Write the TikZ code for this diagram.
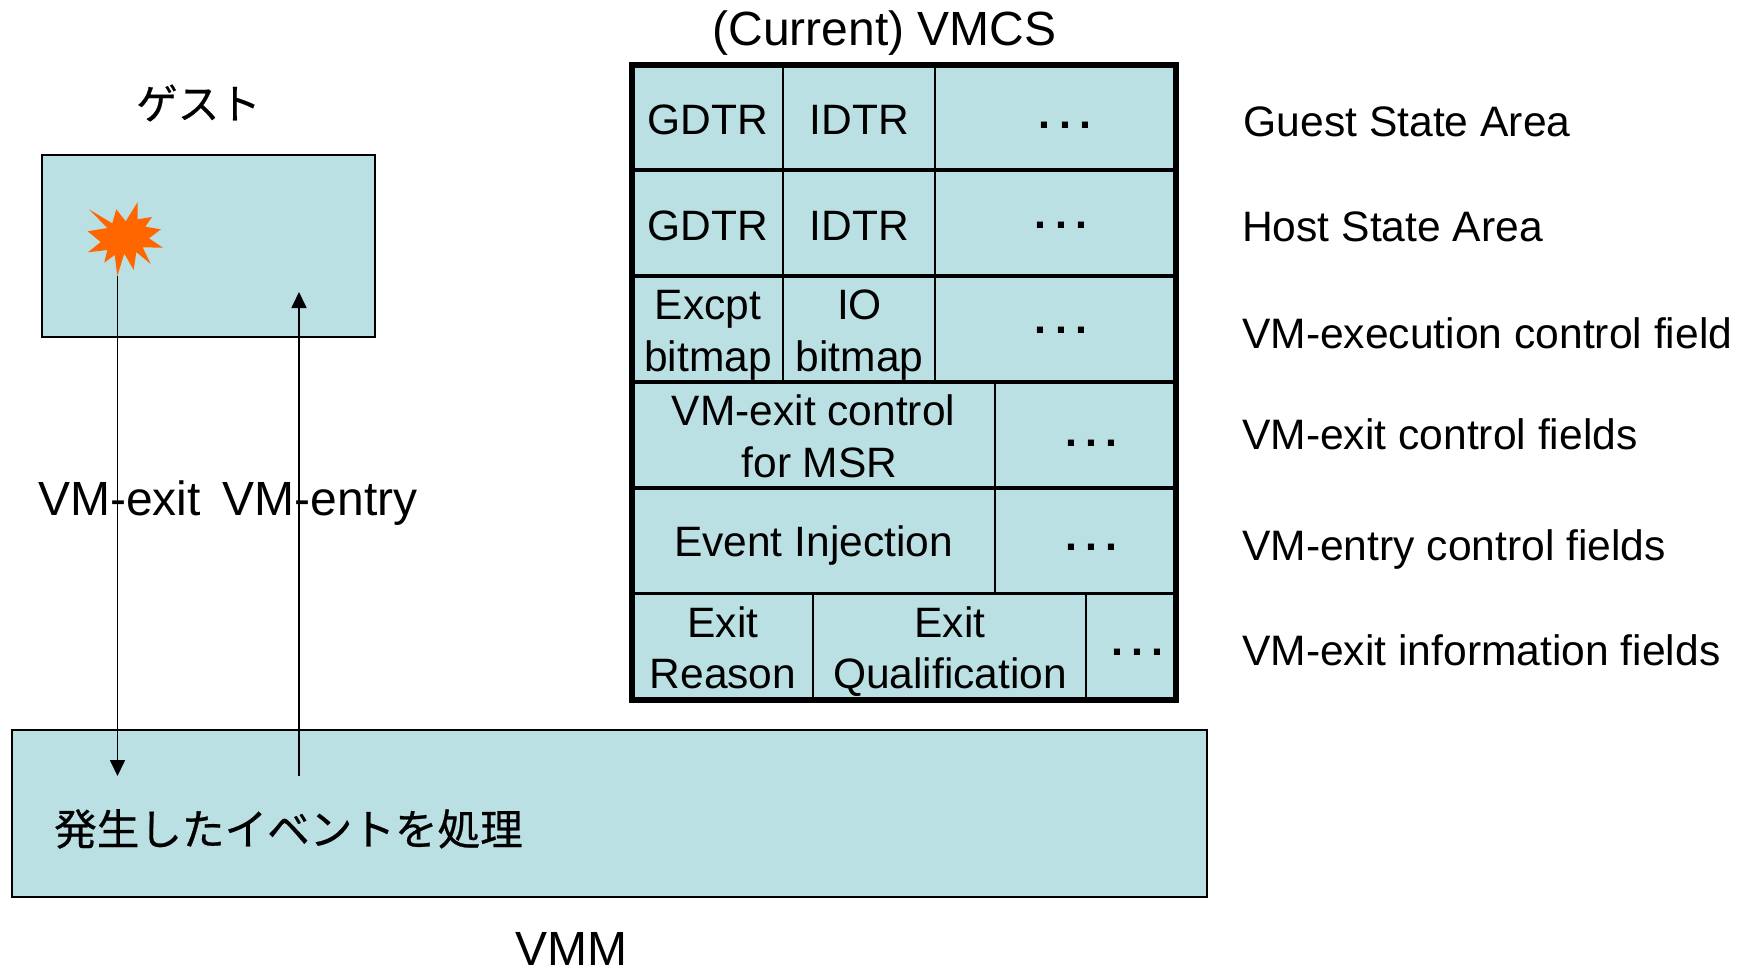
\documentclass[tikz,border=0pt]{standalone}
\usepackage{fontspec}
\setmainfont{Liberation Sans}
\newfontfamily\cjk[FakeBold=0.6]{Noto Sans CJK JP}
\usetikzlibrary{arrows.meta}
\definecolor{boxfill}{HTML}{BBE0E3}
\definecolor{burst}{HTML}{FF6600}
\newcommand{\threedots}{.\hspace{8.2pt}.\hspace{8.2pt}.}
\tikzset{
  areabox/.style={draw=black,line width=1.8pt,fill=boxfill,inner sep=0pt,outer sep=0pt},
  cellbox/.style={draw=black,line width=1.8pt,fill=boxfill,inner sep=0pt,outer sep=0pt},
  frame/.style={draw=black,line width=5.5pt,inner sep=0pt,outer sep=0pt},
  rowline/.style={draw=black,line width=3.6pt},
  big/.style={inner sep=0pt,anchor=base,font=\fontsize{48}{56}\selectfont},
  side/.style={inner sep=0pt,anchor=base west,font=\fontsize{42.6}{51}\selectfont},
  celltext/.style={inner sep=0pt,anchor=base,font=\fontsize{42.5}{51}\selectfont},
  jp/.style={inner sep=0pt,anchor=base,font=\fontsize{42.6}{51}\selectfont\cjk},
  dots/.style={inner sep=0pt,anchor=center,font=\fontsize{43}{45}\selectfont\bfseries},
  flow/.style={draw=black,line width=1.7pt,-{Triangle[length=16pt,width=15pt]}}
}
\newcommand{\boxat}[6]{%
  \pgfmathsetmacro\bw{#5-#3}\pgfmathsetmacro\bh{#6-#4}%
  \node[#2,minimum width=\bw pt,minimum height=\bh pt] (#1) at ({(#3+#5)/2},{(#4+#6)/2}) {};}
\begin{document}
\begin{tikzpicture}[x=1pt,y=-1pt]
\useasboundingbox (0,0) rectangle (1746,969);
% guest and VMM
\boxat{guest}{areabox}{42}{155}{375}{337}
\boxat{vmm}{areabox}{12}{730}{1207}{897}
\node[jp,font=\fontsize{41.5}{51}\selectfont\cjk] (guesttitle) at (198.5,119) {ゲスト};
\node[big] (vmmtitle) at (571,965.5) {VMM};
\node[jp,anchor=base west] (handle) at (54,845) {発生したイベントを処理};
% burst
\fill[burst] (89,209.3)--(112.3,223.3)--(116.3,209.3)--(125.7,221.3)--(137.7,202)--(137.7,219.3)--(152,217)--(145.3,226.7)--(161,229.3)--(149,238.3)--(163,247.7)--(142.7,247.3)--(150.7,264)--(136.3,252)--(133.7,270)--(124.3,253.7)--(117.3,276)--(114.7,255)--(104.3,262.7)--(107.3,250)--(88,252.3)--(100.7,242)--(87.7,231.3)--(107.3,228)--cycle;
\coordinate (exitstart) at (117.5,276);
\coordinate (exitend) at (117.5,776);
\coordinate (entrystart) at (299,776);
\coordinate (entryend) at (299,292);
\draw[flow] (exitstart) -- (exitend);
\draw[flow] (entrystart) -- (entryend);
\node[big,anchor=base west] (exitlabel) at (38,515) {VM-exit};
\node[big,anchor=base west] (entrylabel) at (222.5,515) {VM-entry};
% VMCS
\node[big] (vmcstitle) at (884.5,45) {(Current) VMCS};
\boxat{ra}{cellbox}{632}{66}{783}{170}
\boxat{rb}{cellbox}{783}{66}{935}{170}
\boxat{rc}{cellbox}{935}{66}{1176}{170}
\boxat{sa}{cellbox}{632}{170}{783}{276}
\boxat{sb}{cellbox}{783}{170}{935}{276}
\boxat{sc}{cellbox}{935}{170}{1176}{276}
\boxat{ta}{cellbox}{632}{276}{783}{382}
\boxat{tb}{cellbox}{783}{276}{935}{382}
\boxat{tc}{cellbox}{935}{276}{1176}{382}
\boxat{ua}{cellbox}{632}{382}{995}{488}
\boxat{ub}{cellbox}{995}{382}{1176}{488}
\boxat{va}{cellbox}{632}{488}{995}{593.5}
\boxat{vb}{cellbox}{995}{488}{1176}{593.5}
\boxat{wa}{cellbox}{632}{593.5}{813}{699}
\boxat{wb}{cellbox}{813}{593.5}{1086}{699}
\boxat{wc}{cellbox}{1086}{593.5}{1176}{699}
\draw[rowline] (sa.north west) -- (sc.north east);
\draw[rowline] (ta.north west) -- (tc.north east);
\draw[rowline] (ua.north west) -- (ub.north east);
\draw[rowline] (va.north west) -- (vb.north east);
\draw[rowline] (wa.north west) -- (wc.north east);
\boxat{vmcsframe}{frame}{632}{65}{1176}{700}
\node[celltext] (gdtra) at (708,134) {GDTR};
\node[celltext] (idtra) at (859.5,134) {IDTR};
\node[dots] (dotsa) at (1065,125) {\threedots};
\node[celltext] (gdtrb) at (708,240) {GDTR};
\node[celltext] (idtrb) at (859.5,240) {IDTR};
\node[dots] (dotsb) at (1061,225) {\threedots};
\node[celltext] (excpt) at (708,319.5) {Excpt};
\node[celltext] (bitmapa) at (708,371) {bitmap};
\node[celltext] (io) at (859.5,319.5) {IO};
\node[celltext] (bitmapb) at (859.5,371) {bitmap};
\node[dots] (dotsc) at (1061,330) {\threedots};
\node[celltext] (vmexitctl) at (813.5,425) {VM-exit control};
\node[celltext] (formsr) at (819.5,477) {for MSR};
\node[dots] (dotsd) at (1091.5,443) {\threedots};
\node[celltext] (eventinj) at (813.5,556.5) {Event Injection};
\node[dots] (dotse) at (1091.5,547) {\threedots};
\node[celltext] (exita) at (723,637.5) {Exit};
\node[celltext] (reason) at (723,688.5) {Reason};
\node[celltext] (exitb) at (950,637.5) {Exit};
\node[celltext] (qual) at (950,688.5) {Qualification};
\node[dots] (dotsf) at (1137.5,652) {\threedots};
% side labels
\node[side] (la) at (1243.5,136) {Guest State Area};
\node[side] (lb) at (1242,241) {Host State Area};
\node[side] (lc) at (1242,348) {VM-execution control field};
\node[side] (ld) at (1242,449) {VM-exit control fields};
\node[side] (le) at (1242,560) {VM-entry control fields};
\node[side] (lf) at (1242,665) {VM-exit information fields};
\end{tikzpicture}
\end{document}
